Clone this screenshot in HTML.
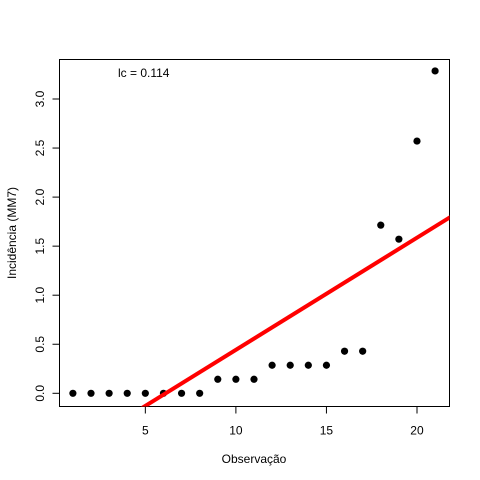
<!DOCTYPE html>
<html><head><meta charset="utf-8"><style>body{margin:0;background:#fff}svg{display:block}text{font-family:"Liberation Sans",sans-serif;font-size:12px;fill:#000}</style></head>
<body>
<svg id="c" width="480" height="480"></svg>
<script>
const obs=[1,2,3,4,5,6,7,8,9,10,11,12,13,14,15,16,17,18,19,20,21];
const incid=[0,0,0,0,0,0,0,0,0.143,0.143,0.143,0.286,0.286,0.286,0.286,0.429,0.429,1.714,1.571,2.571,3.286];
const xTicks=[5,10,15,20];
const yTicks=[0,0.5,1,1.5,2,2.5,3];
const yTickLabels=["0.0","0.5","1.0","1.5","2.0","2.5","3.0"];
const slope=0.1143, intercept=-0.70;
const L=59.5,R=449.5,T=59.5,B=406.5;
const sx=v=>72.9+(v-1)*18.11;
const sy=v=>393.3-v*98.1;
const NS="http://www.w3.org/2000/svg";
const svg=document.getElementById('c');
function mk(t,a,p){const e=document.createElementNS(NS,t);for(const k in a)e.setAttribute(k,a[k]);(p||svg).appendChild(e);return e;}
const defs=mk('defs',{});const cp=mk('clipPath',{id:'clip'},defs);mk('rect',{x:L,y:T,width:R-L,height:B-T},cp);
const box=mk('rect',{x:L,y:T,width:R-L,height:B-T,fill:'none',stroke:'#000'});


xTicks.forEach(v=>{
 const l=mk('line',{x1:sx(v),x2:sx(v),y1:B,y2:B+7,stroke:'#000'});
 
 
 const t=mk('text',{x:sx(v),y:B+28,'text-anchor':'middle'});t.textContent=v;
 
 
});
yTicks.forEach((v,i)=>{
 const l=mk('line',{x1:L-7,x2:L,y1:sy(v),y2:sy(v),stroke:'#000'});
 
 
 const t=mk('text',{x:0,y:0,'text-anchor':'middle',transform:`translate(44,${sy(v)}) rotate(-90)`});t.textContent=yTickLabels[i];
 
 
});
const xl=mk('text',{x:254,y:463,'text-anchor':'middle'});xl.textContent='Observação';


const yl=mk('text',{x:0,y:0,'text-anchor':'middle',transform:'translate(16,233) rotate(-90)'});yl.textContent='Incidência (MM7)';


obs.forEach((x,i)=>{
 const c=mk('circle',{cx:sx(x),cy:sy(incid[i]),r:3.6,fill:'#000'});
 
 
});
const x0=0,x1=25;
const ln=mk('line',{x1:sx(x0),y1:sy(intercept+slope*x0),x2:sx(x1),y2:sy(intercept+slope*x1),stroke:'#ff0000','stroke-width':4,'clip-path':'url(#clip)'});


const an=mk('text',{x:118,y:77});an.textContent='lc = 0.114';


</script>
</body></html>
